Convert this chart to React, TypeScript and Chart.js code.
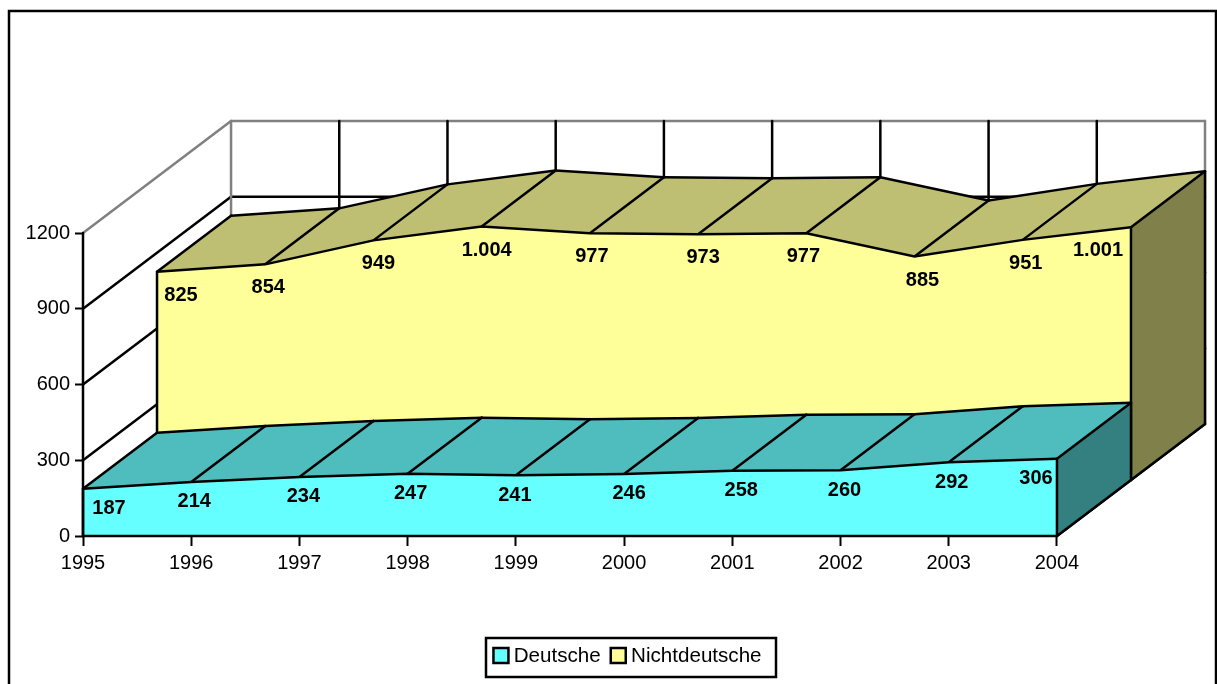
import React, { useEffect, useRef } from "react";
import { Chart, registerables } from "chart.js";

Chart.register(...registerables);

const years = ["1995", "1996", "1997", "1998", "1999", "2000", "2001", "2002", "2003", "2004"];
const deutsche = [187, 214, 234, 247, 241, 246, 258, 260, 292, 306];
const nichtdeutsche = [825, 854, 949, 1004, 977, 973, 977, 885, 951, 1001];
const yTicks = [0, 300, 600, 900, 1200];

const FONT = "'Liberation Sans', Arial, sans-serif";
const LAST = years.length - 1;
const LW = 2.5;
// Depth of the pseudo-3D box expressed as scale ranges (front, middle and back planes share the chart area).
const X_SPAN = 10.368;
const Y_TOP = (1200 * 415) / 303;
const DX = (X_SPAN - LAST) / 2;
const DY = (Y_TOP - 1200) / 2;

const STYLE = [
  { face: "#66FFFF", ribbon: "#4FBDBD", side: "#348080", plane: 0, nudge: [26, 3, 4, 3, -1, 5, 9, 4, 3, -21], dy: 20 },
  { face: "#FFFF99", ribbon: "#BFBF73", side: "#80804A", plane: 1, nudge: [24, 3, 5, 5, 2, 5, -3, 8, 3, -33], dy: 23.5 },
];

const fmt = (v: number) => String(v).replace(/\B(?=(\d{3})+$)/g, ".");

function pt(chart: any, plane: number, i: number, v: number): [number, number] {
  return [chart.scales["x" + plane].getPixelForValue(i), chart.scales["y" + plane].getPixelForValue(v)];
}

function line(ctx: CanvasRenderingContext2D, a: [number, number], b: [number, number], color = "#000") {
  ctx.strokeStyle = color;
  ctx.lineWidth = LW;
  ctx.lineCap = "round";
  ctx.beginPath();
  ctx.moveTo(a[0], a[1]);
  ctx.lineTo(b[0], b[1]);
  ctx.stroke();
}

function poly(ctx: CanvasRenderingContext2D, pts: [number, number][], fill: string) {
  ctx.beginPath();
  pts.forEach((p, i) => (i ? ctx.lineTo(p[0], p[1]) : ctx.moveTo(p[0], p[1])));
  ctx.closePath();
  ctx.fillStyle = fill;
  ctx.fill();
}

function drawWalls(chart: any) {
  const ctx = chart.ctx;
  const GREY = "#808080";
  line(ctx, pt(chart, 0, LAST, 0), pt(chart, 2, LAST, 0));
  yTicks.slice(1).forEach((t) => {
    const c = t === 1200 ? GREY : "#000";
    line(ctx, pt(chart, 0, 0, t), pt(chart, 2, 0, t), c);
    line(ctx, pt(chart, 2, 0, t), pt(chart, 2, LAST, t), c);
  });
  years.forEach((_, i) => {
    line(ctx, pt(chart, 2, i, 0), pt(chart, 2, i, 1200), i === 0 || i === LAST ? GREY : "#000");
  });
}

function drawRibbon(chart: any, values: number[], s: (typeof STYLE)[number]) {
  const ctx = chart.ctx;
  const a = s.plane;
  const b = s.plane + 1;
  for (let i = 0; i < LAST; i++) {
    poly(ctx, [pt(chart, a, i, values[i]), pt(chart, a, i + 1, values[i + 1]), pt(chart, b, i + 1, values[i + 1]), pt(chart, b, i, values[i])], s.ribbon);
  }
  poly(ctx, [pt(chart, a, LAST, values[LAST]), pt(chart, b, LAST, values[LAST]), pt(chart, b, LAST, 0), pt(chart, a, LAST, 0)], s.side);
  for (let i = 0; i < LAST; i++) {
    line(ctx, pt(chart, b, i, values[i]), pt(chart, b, i + 1, values[i + 1]));
  }
  values.forEach((v, i) => line(ctx, pt(chart, a, i, v), pt(chart, b, i, v)));
  line(ctx, pt(chart, b, LAST, values[LAST]), pt(chart, b, LAST, 0));
  line(ctx, pt(chart, a, LAST, 0), pt(chart, b, LAST, 0));
}

const box3d = {
  id: "box3d",
  afterLayout(chart: any) {
    // Keep the legend box centred where the reference has it, independent of the y axis width.
    chart.legend.left = 50;
  },
  beforeDatasetsDraw(chart: any) {
    drawWalls(chart);
    drawRibbon(chart, nichtdeutsche, STYLE[1]);
  },
  afterDatasetDraw(chart: any, args: any) {
    const s = STYLE[args.index];
    const vals = args.index === 0 ? deutsche : nichtdeutsche;
    const ctx = chart.ctx;
    line(ctx, pt(chart, s.plane, 0, vals[0]), pt(chart, s.plane, 0, 0));
    line(ctx, pt(chart, s.plane, LAST, vals[LAST]), pt(chart, s.plane, LAST, 0));
    if (args.index === 0) line(ctx, pt(chart, 0, 0, 0), pt(chart, 0, LAST, 0));
    if (args.index === 1) drawRibbon(chart, deutsche, STYLE[0]);
  },
  afterDraw(chart: any) {
    const ctx = chart.ctx;
    line(ctx, pt(chart, 0, 0, 0), pt(chart, 0, 0, 1200));

    ctx.font = `bold 20px ${FONT}`;
    ctx.fillStyle = "#000";
    ctx.textBaseline = "middle";
    ctx.textAlign = "center";
    [deutsche, nichtdeutsche].forEach((vals, k) => {
      const s = STYLE[k];
      vals.forEach((v, i) => {
        const [x, y] = pt(chart, s.plane, i, v);
        ctx.fillText(fmt(v), x + s.nudge[i], y + s.dy);
      });
    });

    // Legend swatches and frame, placed from the legend's own layout.
    const lg = chart.legend;
    const pad = lg.options.labels.padding;
    let sx = (lg.left + pad + lg.right - lg.lineWidths[0]) / 2;
    lg.legendHitBoxes.forEach((h: any, k: number) => {
      ctx.fillStyle = STYLE[k].face;
      ctx.strokeStyle = "#000";
      ctx.lineWidth = LW;
      ctx.fillRect(sx, lg.top + pad + 2, 15, 15);
      ctx.strokeRect(sx, lg.top + pad + 2, 15, 15);
      sx += h.width + pad;
    });
    ctx.lineWidth = LW;
    ctx.strokeStyle = "#000";
    ctx.strokeRect(486, 638, 290, 39);
    ctx.strokeRect(9, 11, 1207, 800);
  },
};

const whiteBg = {
  id: "whiteBg",
  beforeDraw(chart: any) {
    chart.ctx.fillStyle = "#fff";
    chart.ctx.fillRect(0, 0, chart.width, chart.height);
  },
};

const hidden = (min: number, max: number) => ({ type: "linear", display: false, min, max });

export default function App() {
  const ref = useRef<HTMLCanvasElement>(null);
  useEffect(() => {
    const chart = new Chart(ref.current as HTMLCanvasElement, {
      type: "line",
      data: {
        datasets: [
          {
            label: "Deutsche",
            data: deutsche.map((y, x) => ({ x, y })),
            xAxisID: "x0",
            yAxisID: "y0",
            backgroundColor: STYLE[0].face,
            borderColor: "#000",
            borderWidth: LW,
            pointRadius: 0,
            tension: 0,
            fill: "origin",
            clip: false,
          },
          {
            label: "Nichtdeutsche",
            data: nichtdeutsche.map((y, x) => ({ x, y })),
            xAxisID: "x1",
            yAxisID: "y1",
            backgroundColor: STYLE[1].face,
            borderColor: "#000",
            borderWidth: LW,
            pointRadius: 0,
            tension: 0,
            fill: "origin",
            clip: false,
          },
        ],
      },
      options: {
        responsive: false,
        animation: false,
        events: [],
        layout: { padding: { left: 0, right: 12, top: 121, bottom: 7.4 } },
        scales: {
          x0: {
            type: "linear",
            position: "bottom",
            min: 0,
            max: X_SPAN,
            afterBuildTicks: (s: any) => {
              s.ticks = years.map((_, i) => ({ value: i }));
            },
            afterFit: (s: any) => {
              s.height = 100;
            },
            border: { display: false },
            grid: { drawOnChartArea: false, drawTicks: true, tickLength: 10, tickColor: "#000", tickWidth: 2 },
            ticks: {
              autoSkip: false,
              maxRotation: 0,
              padding: 5,
              color: "#000",
              font: { family: FONT, size: 20 },
              callback: (v: any) => years[v] ?? "",
            },
          },
          y0: {
            type: "linear",
            position: "left",
            min: 0,
            max: Y_TOP,
            afterBuildTicks: (s: any) => {
              s.ticks = yTicks.map((value) => ({ value }));
            },
            afterFit: (s: any) => {
              s.width = 83;
            },
            border: { display: false },
            grid: { drawOnChartArea: false, drawTicks: true, tickLength: 8, tickColor: "#000", tickWidth: 2 },
            ticks: {
              padding: 5,
              color: "#000",
              font: { family: FONT, size: 20 },
              callback: (v: any) => String(v),
            },
          },
          x1: hidden(-DX, X_SPAN - DX),
          y1: hidden(-DY, Y_TOP - DY),
          x2: hidden(-2 * DX, X_SPAN - 2 * DX),
          y2: hidden(-2 * DY, Y_TOP - 2 * DY),
        },
        plugins: {
          tooltip: { enabled: false },
          legend: {
            display: true,
            position: "bottom",
            labels: {
              boxWidth: 10,
              boxHeight: 10,
              padding: 10,
              color: "#000",
              font: { family: FONT, size: 20.6 },
              generateLabels: (c: any) =>
                c.data.datasets.map((d: any, i: number) => ({
                  text: d.label,
                  fillStyle: "transparent",
                  strokeStyle: "transparent",
                  lineWidth: 0,
                  datasetIndex: i,
                  fontColor: "#000",
                })),
            },
          },
        },
      } as any,
      plugins: [whiteBg, box3d],
    } as any);
    return () => chart.destroy();
  }, []);
  return <canvas ref={ref} width={1217} height={684} style={{ position: "absolute", left: 0, top: 0, display: "block" }} />;
}
